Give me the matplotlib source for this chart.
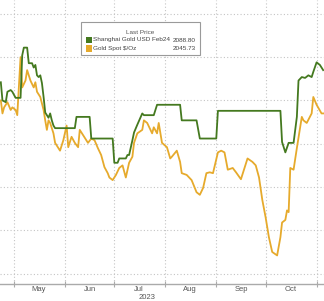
import matplotlib
matplotlib.use('Agg')

import numpy as np
import pandas as pd
import matplotlib.pyplot as plt
import matplotlib.dates as mdates
from matplotlib.patches import Rectangle
from matplotlib import font_manager

plt.rcParams['font.family'] = ['Liberation Sans', 'DejaVu Sans']

# fuente estrecha para la leyenda, si está instalada
try:
    font_manager.findfont('Liberation Sans Narrow', fallback_to_default=False)
    leg_font, leg_size = ['Liberation Sans Narrow', 'Liberation Sans'], 5.6
except ValueError:
    leg_font, leg_size = ['Liberation Sans', 'DejaVu Sans'], 4.6

# Fecha base: los datos van en días desde el 1 de mayo de 2023
base = pd.Timestamp('2023-05-01')

# Gold Spot $/Oz
spot_days = [-8, -7, -6, -4, -2, -1, 1, 2, 4, 5, 7, 8, 10, 12, 13, 14, 16, 18, 19, 20,
             21, 22, 24, 25, 27, 28, 30, 32, 33, 35, 37, 39, 40, 42, 45, 47, 49, 51, 53, 55,
             57, 58, 60, 62, 64, 66, 68, 70, 72, 73, 75, 78, 79, 81, 84, 85, 87, 88, 90, 93,
             95, 96, 99, 101, 102, 105, 108, 111, 113, 115, 117, 119, 121, 124, 126, 128, 130, 133, 135, 138,
             142, 145, 147, 149, 151, 153, 155, 157, 160, 162, 163, 165, 166, 167, 168, 170, 172, 175, 176, 178,
             181, 182, 184, 187, 188]
spot_vals = [2000, 1985, 1992, 1998, 1989, 1992, 1989, 1983, 2050, 2015, 2023, 2035, 2023, 2015, 2021, 2010, 2004, 1989, 1977, 1966,
             1977, 1974, 1962, 1951, 1945, 1942, 1954, 1971, 1946, 1958, 1951, 1946, 1966, 1960, 1951, 1956, 1954, 1945, 1937, 1923,
             1916, 1911, 1908, 1914, 1922, 1925, 1911, 1928, 1935, 1951, 1962, 1966, 1977, 1974, 1962, 1969, 1962, 1974, 1951, 1946,
             1933, 1935, 1942, 1929, 1916, 1914, 1908, 1894, 1891, 1899, 1916, 1917, 1916, 1940, 1942, 1940, 1920, 1922, 1917, 1909,
             1933, 1929, 1925, 1911, 1885, 1865, 1842, 1825, 1821, 1842, 1859, 1862, 1873, 1871, 1922, 1920, 1945, 1981, 1977, 1974,
             1985, 2004, 1995, 1985, 1985]

# Shanghai Gold USD Feb24
sh_days = [-8, -7, -5, -4, -2, -1, 1, 4, 5, 6, 8, 9, 11, 12, 13, 14, 15, 16, 17, 18,
           19, 20, 21, 22, 23, 24, 25, 37, 38, 46, 47, 60, 61, 63, 64, 68, 69, 70, 72, 73,
           75, 78, 79, 85, 87, 101, 102, 111, 113, 123, 124, 162, 163, 165, 167, 170, 172, 173, 175, 177,
           179, 181, 182, 184, 186, 188]
sh_vals = [2021, 2000, 1998, 2010, 2012, 2010, 2003, 2003, 2052, 2061, 2061, 2043, 2043, 2038, 2041, 2029, 2027, 2029, 2020, 2004,
           1986, 1983, 1980, 1985, 1977, 1971, 1968, 1968, 1981, 1981, 1956, 1956, 1928, 1928, 1933, 1933, 1937, 1937, 1954, 1963,
           1972, 1985, 1983, 1983, 1995, 1995, 1977, 1977, 1956, 1956, 1988, 1988, 1952, 1940, 1951, 1951, 1981, 2023, 2027, 2026,
           2029, 2027, 2033, 2044, 2041, 2035]

legend_names = ['Shanghai Gold USD Feb24', 'Gold Spot $/Oz']
legend_last = ['2088.80', '2045.73']

green = '#44791f'
gold = '#e6aa2c'
txt = '#555555'

spot_dates = base + pd.to_timedelta(spot_days, unit='D')
sh_dates = base + pd.to_timedelta(sh_days, unit='D')

fig = plt.figure(figsize=(3.24, 3.01), dpi=100)
ax = fig.add_axes([0, 17 / 301, 1, 284 / 301])

ax.plot(spot_dates, spot_vals, color=gold, lw=1.3, solid_joinstyle='round')
ax.plot(sh_dates, sh_vals, color=green, lw=1.3, solid_joinstyle='round')

ax.set_xlim(base - pd.Timedelta(days=8.5), base + pd.Timedelta(days=188.5))
ax.set_ylim(1788, 2116)

# rejilla punteada
ax.set_yticks(np.arange(1800, 2101, 50))
ax.tick_params(axis='y', left=False, labelleft=False)
ax.xaxis.set_major_locator(mdates.MonthLocator())
ax.xaxis.set_major_formatter(plt.NullFormatter())
ax.xaxis.set_minor_locator(mdates.MonthLocator(bymonthday=16))
ax.xaxis.set_minor_formatter(mdates.DateFormatter('%b'))
ax.tick_params(axis='x', which='major', direction='inout', length=4, color='#aaaaaa', width=0.8)
ax.tick_params(axis='x', which='minor', length=0, labelsize=5.5, labelcolor=txt, pad=1.5)
ax.grid(True, which='major', color='#c4c4c4', lw=0.8, ls=(0, (1, 2)))

for s in ['top', 'left', 'right']:
    ax.spines[s].set_visible(False)
ax.spines['bottom'].set_color('#aaaaaa')
ax.spines['bottom'].set_linewidth(1.0)

fig.text(147 / 324, 1 - 297.5 / 301, '2023', ha='center', va='center', fontsize=5.5, color=txt)

# leyenda tipo Bloomberg
fig.patches.append(Rectangle((81 / 324, 1 - 55 / 301), 119 / 324, 33 / 301,
                             transform=fig.transFigure, facecolor='white',
                             edgecolor='#9a9a9a', lw=0.8, zorder=5))
fig.text(140 / 324, 1 - 32 / 301, 'Last Price', ha='center', va='center',
         family=leg_font, fontsize=leg_size, color=txt, zorder=6)
for i, (name, last, c) in enumerate(zip(legend_names, legend_last, [green, gold])):
    yy = 1 - (40 + 8.5 * i) / 301
    fig.patches.append(Rectangle((86 / 324, yy - 3 / 301), 6 / 324, 6 / 301,
                                 transform=fig.transFigure, facecolor=c,
                                 edgecolor='none', zorder=6))
    fig.text(93 / 324, yy, name, ha='left', va='center', family=leg_font,
             fontsize=leg_size, color='#444444', zorder=6)
    fig.text(196 / 324, yy, last, ha='right', va='center', family=leg_font,
             fontsize=leg_size, color='#444444', zorder=6)

fig.savefig('out.png', dpi=100)
